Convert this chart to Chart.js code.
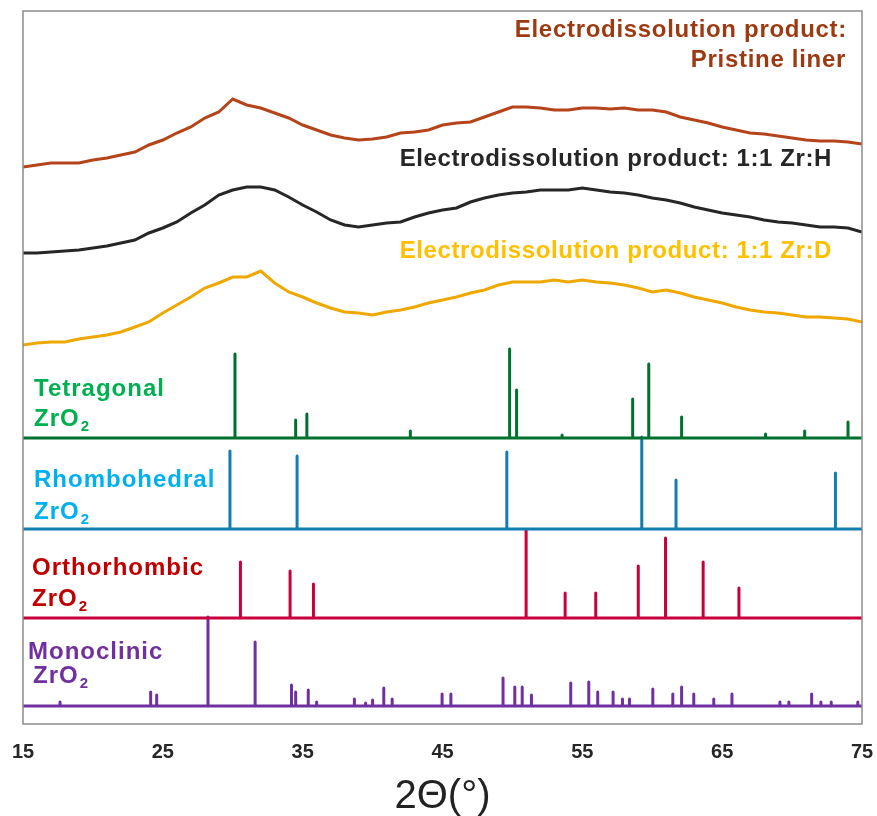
<!DOCTYPE html>
<html>
<head>
<meta charset="utf-8">
<script src="https://cdn.jsdelivr.net/npm/chart.js@4/dist/chart.umd.min.js"></script>
<style>
  html, body { margin: 0; padding: 0; background: #ffffff; }
  #wrap { width: 877px; height: 816px; }
</style>
</head>
<body>
<div id="wrap"><canvas id="c" width="877" height="816"></canvas></div>
<script>
// ---- Data ----
const twoTheta = [15,16,17,18,19,20,21,22,23,24,25,26,27,28,29,30,31,32,33,34,35,36,37,38,39,40,41,42,43,44,45,46,47,48,49,50,51,52,53,54,55,56,57,58,59,60,61,62,63,64,65,66,67,68,69,70,71,72,73,74,75];
const pristineLiner = [557,559,561,561,561,564,566,569,572,579,584,591,597,606,612,625,619,616,611,606,599,594,589,586,584,585,587,591,592,594,599,601,602,607,612,617,617,616,614,614,616,616,615,616,614,614,612,607,604,601,597,594,591,590,588,586,584,583,583,582,580];
const zrH = [471,471,472,473,474,476,478,481,484,491,496,502,511,519,529,534,537,537,534,527,519,512,504,499,497,499,501,502,507,511,514,516,522,526,529,531,532,534,534,534,536,534,532,531,529,526,524,521,517,514,511,509,507,504,502,501,499,497,497,496,492];
const zrD = [379,381,382,382,385,387,389,392,397,402,411,419,427,436,441,447,447,453,441,432,427,421,416,412,411,409,412,414,417,421,424,427,431,434,439,442,442,442,444,442,444,442,441,439,436,432,434,431,427,424,421,417,414,412,411,409,407,407,406,405,402];

const tetraPos = [30.16,34.5,35.3,42.7,49.8,50.3,53.55,58.6,59.75,62.1,68.1,70.9,74.0];
const tetraInt = [84,18,24,7,89,48,3,39,74,21,4,7,16];
const rhomboPos = [29.8,34.6,49.6,59.25,61.7,73.1];
const rhomboInt = [78,73,77,92,49,56];
const orthoPos = [30.55,34.1,35.77,50.98,53.77,55.96,59.0,60.95,63.64,66.2];
const orthoInt = [56,47,34,88,25,25,52,80,56,30];
const monoPos = [17.65,24.13,24.56,28.23,31.6,34.2,34.5,35.4,36.0,38.7,39.5,40.0,40.8,41.4,44.97,45.6,49.33,50.17,50.7,51.36,54.17,55.46,56.1,57.2,57.87,58.37,60.04,61.47,62.1,62.97,64.4,65.7,69.13,69.77,71.4,72.06,72.8,74.7];
const monoInt = [4,14,11,89,64,21,14,16,4,7,3,6,18,7,12,12,28,19,19,11,23,24,14,14,7,7,17,12,19,12,7,12,4,4,12,4,4,4];

const xTicks = [15,25,35,45,55,65,75];
const xTitle = '2Θ(°)';

// ---- helpers ----
const FONT = '"Liberation Sans", Arial, sans-serif';
function curve(ys) { return twoTheta.map((x, i) => ({ x: x, y: ys[i] })); }
function sticks(pos, ints, base) {
  const pts = [{ x: 15, y: base }];
  pos.forEach((p, i) => {
    pts.push({ x: p, y: base });
    pts.push({ x: p, y: base + ints[i] });
    pts.push({ x: p, y: base });
  });
  pts.push({ x: 75, y: base });
  return pts;
}
// vertical offsets of the stacked patterns (layout only)
const OFF_T = 286, OFF_R = 195, OFF_O = 106, OFF_M = 18;

const labelsPlugin = {
  id: 'labels',
  afterDatasetsDraw(chart) {
    const ctx = chart.ctx;
    const a = chart.chartArea;
    ctx.save();
    // frame
    ctx.strokeStyle = '#8c8c8c';
    ctx.lineWidth = 1.5;
    ctx.strokeRect(a.left, a.top, a.right - a.left, a.bottom - a.top);

    ctx.textBaseline = 'alphabetic';
    function txt(s, x, y, color, size, align, spacing) {
      ctx.font = 'bold ' + size + 'px ' + FONT;
      ctx.fillStyle = color;
      ctx.textAlign = align || 'left';
      try { ctx.letterSpacing = (spacing || 0) + 'px'; } catch (e) {}
      ctx.fillText(s, x, y);
      return ctx.measureText(s).width;
    }
    function phase(name, color, x1, y1, x2, y2) {
      txt(name, x1, y1, color, 24, 'left', 1);
      const w = txt('ZrO', x2, y2, color, 24, 'left', 1);
      txt('2', x2 + w + 1, y2 + 5, color, 15, 'left', 0);
    }
    phase('Tetragonal', '#00B050', 34, 396, 34, 426);
    phase('Rhombohedral', '#00B0F0', 34, 487, 34, 519);
    phase('Orthorhombic', '#C00000', 32, 575, 32, 606);
    phase('Monoclinic', '#7030A0', 28, 659, 33, 683);

    txt('Electrodissolution product:', 847, 37, '#9C3A12', 24, 'right', 0.7);
    txt('Pristine liner', 846, 67, '#9C3A12', 24, 'right', 0.7);
    txt('Electrodissolution product: 1:1 Zr:H', 832, 166, '#262626', 24, 'right', 0.6);
    txt('Electrodissolution product: 1:1 Zr:D', 832, 258, '#FFC000', 24, 'right', 0.6);
    ctx.restore();
  }
};

const lineBase = { pointRadius: 0, fill: false, tension: 0 };
new Chart(document.getElementById('c'), {
  type: 'line',
  data: {
    datasets: [
      Object.assign({ label: 'Pristine liner', data: curve(pristineLiner), borderColor: '#B5441A', borderWidth: 3 }, lineBase),
      Object.assign({ label: '1:1 Zr:H', data: curve(zrH), borderColor: '#262626', borderWidth: 3 }, lineBase),
      Object.assign({ label: '1:1 Zr:D', data: curve(zrD), borderColor: '#EEA800', borderWidth: 3 }, lineBase),
      Object.assign({ label: 'Tetragonal ZrO2', data: sticks(tetraPos, tetraInt, OFF_T), borderColor: '#00702E', borderWidth: 3, borderJoinStyle: 'round', borderCapStyle: 'round' }, lineBase),
      Object.assign({ label: 'Rhombohedral ZrO2', data: sticks(rhomboPos, rhomboInt, OFF_R), borderColor: '#127DB0', borderWidth: 3, borderJoinStyle: 'round', borderCapStyle: 'round' }, lineBase),
      Object.assign({ label: 'Orthorhombic ZrO2', data: sticks(orthoPos, orthoInt, OFF_O), borderColor: '#C8003C', borderWidth: 3, borderJoinStyle: 'round', borderCapStyle: 'round' }, lineBase),
      Object.assign({ label: 'Monoclinic ZrO2', data: sticks(monoPos, monoInt, OFF_M), borderColor: '#7030A0', borderWidth: 3, borderJoinStyle: 'round', borderCapStyle: 'round' }, lineBase)
    ]
  },
  options: {
    responsive: false,
    animation: false,
    devicePixelRatio: 1,
    layout: { padding: { left: 23, right: 15, top: 11, bottom: 0 } },
    plugins: { legend: { display: false }, tooltip: { enabled: false } },
    scales: {
      x: {
        type: 'linear', min: 15, max: 75,
        afterBuildTicks(scale) { scale.ticks = xTicks.map(v => ({ value: v })); },
        afterFit(scale) { scale.paddingLeft = 0; scale.paddingRight = 0; },
        grid: { display: false, drawTicks: false },
        border: { display: false },
        ticks: { padding: 16, maxRotation: 0, autoSkip: false, color: '#262626', font: { family: FONT, size: 20, weight: 'bold' } },
        title: { display: true, text: xTitle, color: '#222222', padding: { top: 0, bottom: 2 }, font: { family: FONT, size: 40, weight: 'normal', lineHeight: 0.85 } }
      },
      y: { type: 'linear', min: 0, max: 713, display: false }
    }
  },
  plugins: [labelsPlugin]
});
</script>
</body>
</html>
